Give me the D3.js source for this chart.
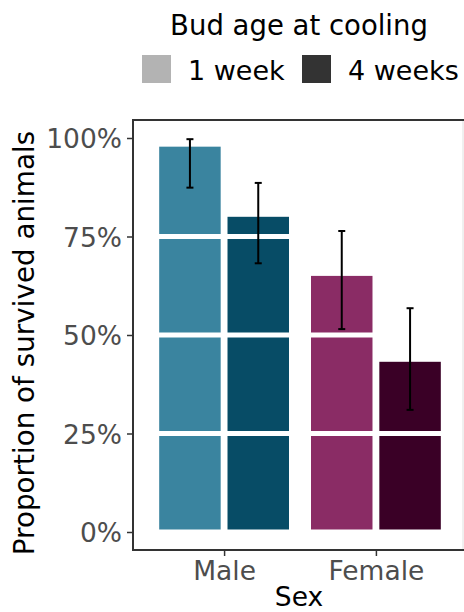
<!DOCTYPE html>
<html>
<head>
<meta charset="utf-8">
<script src="https://cdn.jsdelivr.net/npm/d3@7"></script>
<style>
  body { margin: 0; background: #fff; }
  svg text { font-family: "DejaVu Sans", sans-serif; }
</style>
</head>
<body>
<div class="chart"></div>
<script>
// values
const sexes = ["Male", "Female"];
const ages = ["1 week", "4 weeks"];
const survived = {Male: [0.978, 0.80], Female: [0.65, 0.432]};
const ciLow = {Male: [0.874, 0.682], Female: [0.515, 0.31]};
const ciHigh = {Male: [0.997, 0.886], Female: [0.764, 0.568]};
const yTicks = [0, 0.25, 0.5, 0.75, 1];
const barColors = {Male: ["#3a849f", "#074c66"], Female: ["#8a2c65", "#3a0026"]};
const legendColors = ["#b3b3b3", "#333333"];

const width = 464, height = 612;
const panel = {left: 133, top: 120, right: 467, bottom: 550};

let svg = d3.select("div.chart")
    .append("svg")
    .attr("width", width)
    .attr("height", height);

// flatten to one row per bar
let rows = [];
sexes.forEach(s => {
    ages.forEach((a, i) => {
        rows.push({sex: s, age: a, value: survived[s][i], lo: ciLow[s][i], hi: ciHigh[s][i], color: barColors[s][i]});
    });
});

// ggplot style discrete axis: positions 1..n, limits expanded by 0.6
let x = d3.scaleLinear().domain([0.4, sexes.length + 0.6]).range([panel.left, panel.right]);
let dodge = d3.scaleBand().domain(ages).range([-0.45, 0.45]).paddingInner(0.1).paddingOuter(0.05);
let y = d3.scaleLinear().domain([0, 1]).range([532, 138]);

let barX = d => x(sexes.indexOf(d.sex) + 1 + dodge(d.age));
let barMid = d => x(sexes.indexOf(d.sex) + 1 + dodge(d.age) + dodge.bandwidth() / 2);

svg.append("g")
    .selectAll("rect")
    .data(rows)
    .enter()
    .append("rect")
    .attr("x", barX)
    .attr("width", d => x(dodge.bandwidth()) - x(0))
    .attr("y", d => y(d.value))
    .attr("height", d => y(0) - y(d.value))
    .attr("fill", d => d.color);

// white grid lines sit over the bars
svg.append("g")
    .selectAll("line")
    .data(yTicks)
    .enter()
    .append("line")
    .attr("x1", panel.left)
    .attr("x2", panel.right)
    .attr("y1", d => y(d))
    .attr("y2", d => y(d))
    .attr("stroke", "#fff")
    .attr("stroke-width", 5);

// error bars
let err = svg.append("g")
    .selectAll("g")
    .data(rows)
    .enter()
    .append("g")
    .attr("stroke", "#000")
    .attr("stroke-width", 2);
err.append("line")
    .attr("x1", barMid).attr("x2", barMid)
    .attr("y1", d => y(d.lo)).attr("y2", d => y(d.hi));
err.append("line")
    .attr("x1", d => barMid(d) - 3.5).attr("x2", d => barMid(d) + 3.5)
    .attr("y1", d => y(d.hi)).attr("y2", d => y(d.hi));
err.append("line")
    .attr("x1", d => barMid(d) - 3.5).attr("x2", d => barMid(d) + 3.5)
    .attr("y1", d => y(d.lo)).attr("y2", d => y(d.lo));

// panel frame: dark left, top, bottom, faint right edge
svg.append("line")
    .attr("x1", 463).attr("x2", 463)
    .attr("y1", panel.top).attr("y2", panel.bottom)
    .attr("stroke", "#e0e0e0").attr("stroke-width", 1);
svg.append("path")
    .attr("d", `M${width},${panel.top}H${panel.left}V${panel.bottom}H${width}`)
    .attr("fill", "none")
    .attr("stroke", "#333")
    .attr("stroke-width", 2);

// y axis
let yAxis = svg.append("g")
    .attr("transform", `translate(${panel.left - 1},0)`)
    .call(d3.axisLeft(y).tickValues(yTicks).tickFormat(d3.format(".0%")).tickSize(5).tickPadding(5));
yAxis.select(".domain").remove();
yAxis.selectAll(".tick line").attr("stroke", "#333").attr("stroke-width", 1.5);
yAxis.selectAll(".tick text")
    .attr("fill", "#4d4d4d")
    .style("font-size", "26.5px")
    .attr("dy", "0.36em");

// x axis
let xAxis = svg.append("g")
    .attr("transform", `translate(0,${panel.bottom + 1})`)
    .call(d3.axisBottom(x).tickValues(sexes.map((s, i) => i + 1)).tickFormat(i => sexes[i - 1]).tickSize(5).tickPadding(5));
xAxis.select(".domain").remove();
xAxis.selectAll(".tick line").attr("stroke", "#333").attr("stroke-width", 1.5);
xAxis.selectAll(".tick text")
    .attr("fill", "#4d4d4d")
    .style("font-size", "26.5px");

// axis titles
svg.append("text")
    .attr("x", 299).attr("y", 606)
    .attr("text-anchor", "middle")
    .style("font-size", "26.5px")
    .text("Sex");
svg.append("text")
    .attr("transform", "translate(34,343) rotate(-90)")
    .attr("text-anchor", "middle")
    .style("font-size", "27.8px")
    .text("Proportion of survived animals");

// legend
svg.append("text")
    .attr("x", 299).attr("y", 35)
    .attr("text-anchor", "middle")
    .style("font-size", "27.5px")
    .text("Bud age at cooling");
let keyX = [142, 302];
let legend = svg.append("g")
    .selectAll("g")
    .data(ages)
    .enter()
    .append("g")
    .attr("transform", (d, i) => `translate(${keyX[i]},55)`);
legend.append("rect")
    .attr("width", 29).attr("height", 28)
    .attr("fill", (d, i) => legendColors[i]);
legend.append("text")
    .attr("x", 46).attr("y", 25)
    .style("font-size", "27px")
    .text(d => d);
</script>
</body>
</html>
